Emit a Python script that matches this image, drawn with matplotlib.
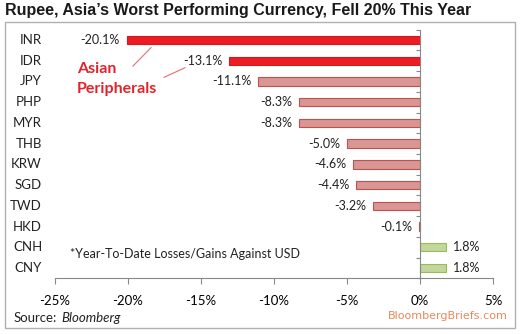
import numpy as np
import matplotlib
matplotlib.use('Agg')
import matplotlib.pyplot as plt
from matplotlib.patches import Rectangle
from matplotlib.transforms import blended_transform_factory

currencies = ['INR', 'IDR', 'JPY', 'PHP', 'MYR', 'THB',
              'KRW', 'SGD', 'TWD', 'HKD', 'CNH', 'CNY']
ytd_change = [-20.1, -13.1, -11.1, -8.3, -8.3, -5.0,
              -4.6, -4.4, -3.2, -0.1, 1.8, 1.8]
peripherals = ['INR', 'IDR']
xticks = [-25, -20, -15, -10, -5, 0, 5]

body_font = ['Lato', 'DejaVu Sans']
W, H = 520, 334

fig = plt.figure(figsize=(5.2, 3.34), dpi=100)
fig.patch.set_facecolor('white')

# outer frame
fig.patches.append(Rectangle((5 / W, 1 - 328 / H), 510 / W, 306 / H,
                             transform=fig.transFigure, fill=False,
                             edgecolor='#b0b0b0', linewidth=1.0))

fig.text(5 / W, 1 - 11 / H, "Rupee, Asia\u2019s Worst Performing Currency, Fell 20% This Year",
         fontsize=11.5, fontweight='bold', family='Liberation Sans',
         va='center', ha='left', color='#1a1a1a')

ax = fig.add_axes([55 / W, 1 - 278.4 / H, 438 / W, 248.8 / H])

y = np.arange(len(currencies))
for yi, cur, val in zip(y, currencies, ytd_change):
    if cur in peripherals:
        fc, ec = '#ec1c24', '#d41820'
    elif val < 0:
        fc, ec = '#d99694', '#c0504d'
    else:
        fc, ec = '#c3d69b', '#9bbb59'
    ax.barh(yi, val, height=0.4, color=fc, edgecolor=ec, linewidth=0.8)
    if val < 0:
        ax.text(val - 0.45, yi, f'{val:.1f}%', ha='right', va='center',
                fontsize=9, family=body_font, color='#222222')
    else:
        ax.text(val + 0.45, yi, f'{val:.1f}%', ha='left', va='center',
                fontsize=9, family=body_font, color='#222222')

ax.set_xlim(-25, 5)
ax.set_ylim(len(currencies) - 0.5, -0.5)

for s in ['top', 'right']:
    ax.spines[s].set_visible(False)
ax.spines['left'].set_position(('data', 0))
ax.spines['left'].set_color('#888888')
ax.spines['bottom'].set_color('#888888')

ax.set_yticks(np.arange(-0.5, len(currencies), 1.0))
ax.set_yticklabels([])
ax.tick_params(axis='y', direction='out', length=3, color='#888888')

ax.set_xticks(xticks)
ax.set_xticklabels([f'{t}%' for t in xticks], fontsize=9.5, family=body_font)
ax.tick_params(axis='x', direction='out', length=4, color='#888888', pad=8)

# currency names on the far left
trans = blended_transform_factory(fig.transFigure, ax.transData)
for yi, cur in zip(y, currencies):
    fig.text(42 / W, yi, cur, transform=trans, ha='right', va='center',
             fontsize=9.5, family=body_font, color='#222222')

ax.text(-24.0, 10.33, '*Year-To-Date Losses/Gains Against USD', ha='left', va='center',
        fontsize=9, family=body_font, color='#222222')

# annotation for the two worst performers
ax.text(-23.5, 1.86, 'Asian\nPeripherals', ha='left', va='center',
        fontsize=11.5, fontweight='bold', family=body_font, color='#e2232a',
        linespacing=1.55)
ax.plot([-19.66, -18.42], [1.26, 0.37], color='#e86c70', linewidth=0.8)
ax.plot([-17.53, -16.10], [1.80, 1.34], color='#e86c70', linewidth=0.8)

src = fig.text(14 / W, 1 - 318 / H, 'Source:', ha='left', va='center',
               fontsize=9.5, family=body_font, color='#222222')
fig.canvas.draw()
src_end = src.get_window_extent().x1
fig.text((src_end + 4) / W, 1 - 318 / H, 'Bloomberg', ha='left', va='center',
         fontsize=9.5, family=body_font, style='italic', color='#222222')
fig.text(508 / W, 1 - 316 / H, 'BloombergBriefs.com', ha='right', va='center',
         fontsize=8, family='DejaVu Sans', color='#e8875a')

fig.savefig('out.png', dpi=100)
